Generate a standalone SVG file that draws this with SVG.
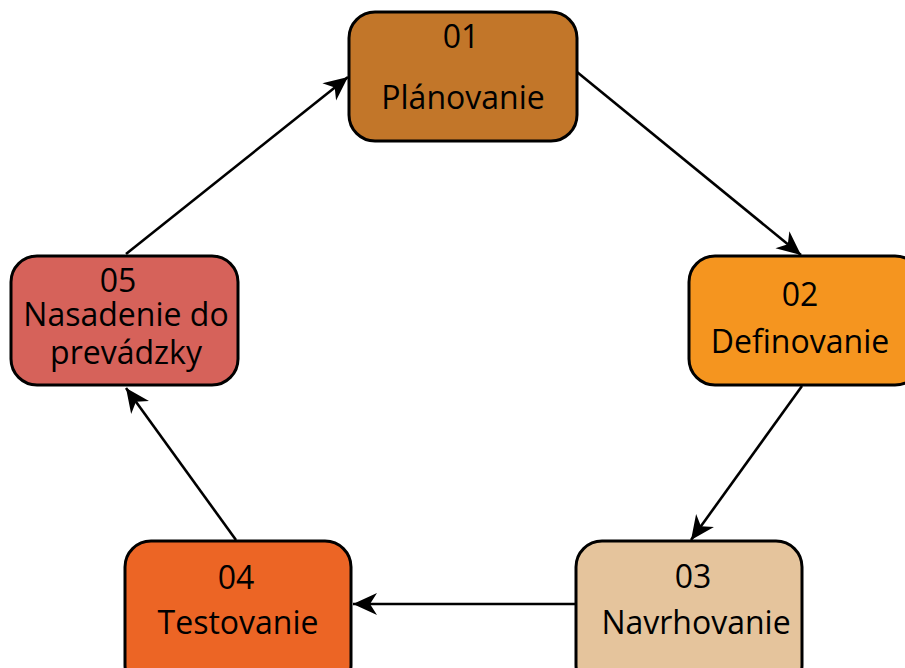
<svg xmlns="http://www.w3.org/2000/svg" width="905" height="668" viewBox="0 0 905 668">
<defs>
<marker id="ah" markerUnits="userSpaceOnUse" markerWidth="30" markerHeight="30" viewBox="-26 -13 30 26" refX="0" refY="0" orient="auto">
<path d="M0,0 L-24,-11 L-17,0 L-24,11 Z" fill="#000"/>
</marker>
<style>
.box{stroke:#000;stroke-width:3}
.t{font-family:"Open Sans","Noto Sans",sans-serif;font-size:32px;fill:#000;text-anchor:middle}
.c{stroke:#000;stroke-width:2.6;fill:none;marker-end:url(#ah)}
</style>
</defs>
<rect width="905" height="668" fill="#fff"/>
<g id="connectors">
<line class="c" x1="577" y1="72" x2="801" y2="255"/>
<line class="c" x1="802" y1="386" x2="691" y2="540"/>
<line class="c" x1="576" y1="604" x2="353" y2="604"/>
<line class="c" x1="236" y1="540" x2="126" y2="388"/>
<line class="c" x1="126" y1="254" x2="348" y2="77"/>
</g>
<g id="n01">
<rect class="box" x="349" y="12" width="228" height="129" rx="26" fill="#C27629"/>
<text class="t" x="461" y="48">01</text>
<text class="t" x="463" y="109">Plánovanie</text>
</g>
<g id="n02">
<rect class="box" x="689" y="256" width="232" height="129" rx="26" fill="#F5951F"/>
<text class="t" x="800" y="306">02</text>
<text class="t" x="800" y="353">Definovanie</text>
</g>
<g id="n03">
<rect class="box" x="576" y="541" width="226" height="150" rx="26" fill="#E5C49C"/>
<text class="t" x="693" y="588">03</text>
<text class="t" x="696" y="634">Navrhovanie</text>
</g>
<g id="n04">
<rect class="box" x="125" y="541" width="226" height="150" rx="26" fill="#EC6525"/>
<text class="t" x="236" y="589">04</text>
<text class="t" x="238" y="634">Testovanie</text>
</g>
<g id="n05">
<rect class="box" x="11" y="256" width="227" height="129" rx="26" fill="#D6625A"/>
<text class="t" x="118" y="292">05</text>
<text class="t" x="126" y="326">Nasadenie do</text>
<text class="t" x="126" y="364">prevádzky</text>
</g>
</svg>
